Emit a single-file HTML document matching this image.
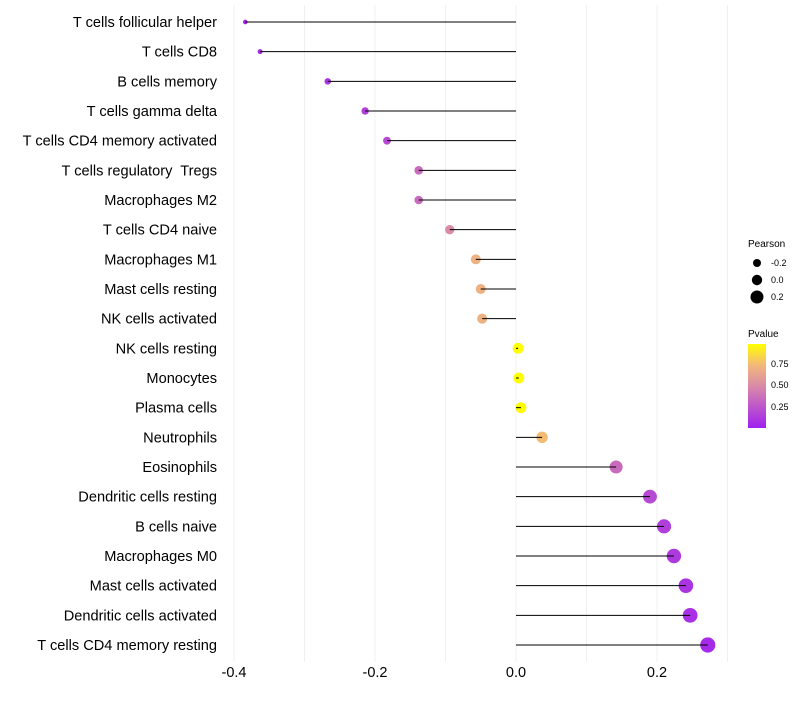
<!DOCTYPE html>
<html><head><meta charset="utf-8"><style>
body{margin:0;background:#fff;font-family:"Liberation Sans",Arial,sans-serif}
text{white-space:pre}
</style></head><body>
<svg id="chart" width="800" height="700" xmlns="http://www.w3.org/2000/svg">
<defs><linearGradient id="pg" x1="0" y1="1" x2="0" y2="0">
<stop offset="0" stop-color="#a020f0"/><stop offset="0.5" stop-color="#d98aa8"/><stop offset="0.75" stop-color="#f2b87a"/><stop offset="1" stop-color="#ffff00"/></linearGradient></defs>
<g id="grid"></g>
<g id="marks"></g>
<g id="labels"></g>
<g id="xt"></g>
<g font-size="9" fill="#000">
<text x="748" y="247" font-size="10">Pearson</text>
<circle cx="757" cy="263" r="4"/><text x="771" y="266">-0.2</text>
<circle cx="757" cy="280" r="5.2"/><text x="771" y="283">0.0</text>
<circle cx="757" cy="297" r="6.5"/><text x="771" y="300">0.2</text>
</g>
<g font-size="9">
<text x="748" y="337" font-size="10">Pvalue</text>
<rect x="748" y="344" width="18" height="84" fill="url(#pg)"/>
<text x="771" y="367">0.75</text>
<text x="771" y="388">0.50</text>
<text x="771" y="410">0.25</text>
</g>
</svg>
<script>
const categories=["T cells follicular helper","T cells CD8","B cells memory","T cells gamma delta","T cells CD4 memory activated","T cells regulatory  Tregs","Macrophages M2","T cells CD4 naive","Macrophages M1","Mast cells resting","NK cells activated","NK cells resting","Monocytes","Plasma cells","Neutrophils","Eosinophils","Dendritic cells resting","B cells naive","Macrophages M0","Mast cells activated","Dendritic cells activated","T cells CD4 memory resting"];
const pearson=[-0.384,-0.363,-0.267,-0.214,-0.183,-0.138,-0.138,-0.094,-0.057,-0.050,-0.048,0.003,0.004,0.007,0.037,0.142,0.190,0.210,0.224,0.241,0.247,0.272];
const pvalue=[0.04,0.05,0.1,0.15,0.2,0.35,0.35,0.5,0.7,0.7,0.7,0.98,0.98,0.97,0.75,0.35,0.2,0.15,0.12,0.1,0.08,0.05];
const xTicks=[-0.4,-0.2,0.0,0.2];
const xGrid=[-0.4,-0.3,-0.2,-0.1,0,0.1,0.2,0.3];
const NS="http://www.w3.org/2000/svg";
const xs=v=>516+v*705;
const ys=i=>22+i*(623/21);
const rs=p=>Math.max(1.3,5.4+8*p);
function mk(t,a,parent){const e=document.createElementNS(NS,t);for(const k in a)e.setAttribute(k,a[k]);parent.appendChild(e);return e;}
const stops=[[0,[160,32,240]],[0.5,[217,138,168]],[0.75,[242,184,122]],[1,[255,255,0]]];
function col(p){const t=Math.min(1,Math.max(0,(p-0.006)/(0.98-0.006)));for(let i=0;i<stops.length-1;i++){const[a,c1]=stops[i],[b,c2]=stops[i+1];if(t<=b){const f=(t-a)/(b-a);return "rgb("+c1.map((c,j)=>Math.round(c+(c2[j]-c)*f)).join(",")+")";}}return "rgb(255,255,0)";}
const g=document.getElementById('grid'),m=document.getElementById('marks'),l=document.getElementById('labels'),xt=document.getElementById('xt');
xGrid.forEach(v=>{const e=mk('line',{x1:xs(v),x2:xs(v),y1:5,y2:662,stroke:'#f0f0f0','stroke-width':1},g);

});
xTicks.forEach(v=>{const e=mk('text',{x:xs(v),y:677,'text-anchor':'middle','font-size':14.5,fill:'#000'},xt);e.textContent=v.toFixed(1);

});
categories.forEach((c,i)=>{const y=ys(i);
const pt=mk('circle',{cx:xs(pearson[i]),cy:y,r:rs(pearson[i]),fill:col(pvalue[i])},m);


const ln=mk('line',{x1:xs(0),x2:xs(pearson[i]),y1:y,y2:y,stroke:'#000','stroke-width':1},m);


const t=mk('text',{x:217,y:y+5,'text-anchor':'end','font-size':14.6,fill:'#000'},l);t.textContent=c;

});
</script>
</body></html>
